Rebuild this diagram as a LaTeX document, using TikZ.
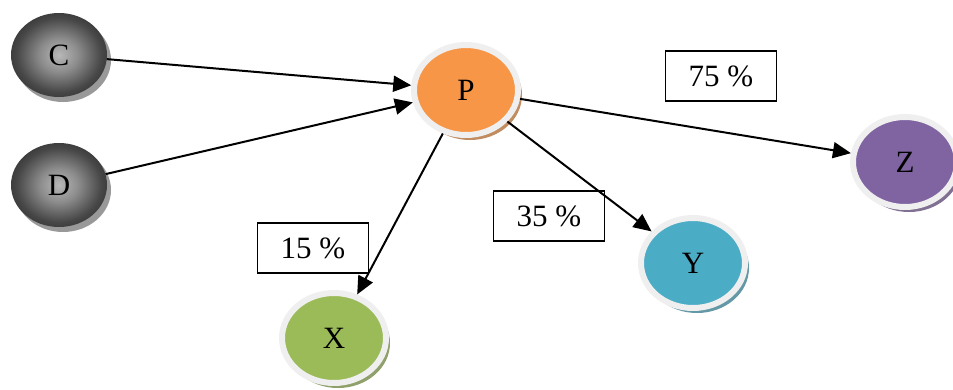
\documentclass[tikz,border=0pt]{standalone}
\usepackage{fontspec}
\setmainfont{Liberation Serif}
\usetikzlibrary{shapes.geometric,shadows,arrows.meta}

\definecolor{pOrange}{HTML}{F79646}
\definecolor{xGreen}{HTML}{9BBB59}
\definecolor{yBlue}{HTML}{4BACC6}
\definecolor{zPurple}{HTML}{8064A2}
\definecolor{ringGray}{HTML}{EFEFEF}

\pgfdeclareradialshading{darkball}{\pgfpoint{0bp}{0bp}}{%
  color(0bp)=(black!28); color(10bp)=(black!45); color(22bp)=(black!72);
  color(35bp)=(black!88); color(50bp)=(black!95)}

\tikzset{
  ball/.style={ellipse, minimum width=96pt, minimum height=84pt, inner sep=0pt,
    shading=darkball,
    drop shadow={shadow xshift=4pt, shadow yshift=-5pt, fill=black!40, opacity=1}},
  bubble/.style={ellipse, minimum width=104pt, minimum height=90pt, inner sep=0pt,
    fill=#1, draw=ringGray, line width=6pt,
    drop shadow={shadow xshift=4pt, shadow yshift=-5pt, fill=#1!55!gray, opacity=1}},
  share/.style={draw, line width=1.3pt, minimum width=111pt, minimum height=50pt},
  arr/.style={line width=2pt, -{Triangle[length=18pt, width=16pt]}}
}

\begin{document}
\begin{tikzpicture}[x=1pt, y=-1pt, font=\fontsize{31}{35}\selectfont]

    \useasboundingbox (0, 0) rectangle (953, 389);

    % Entradas
    \node[ball] (C) at (59, 55) {C};
    \node[ball] (D) at (59, 185) {D};

    % Nodo central
    \node[bubble=pOrange] (P) at (466, 90) {P};

    % Salidas
    \node[bubble=xGreen] (X) at (334, 338) {X};
    \node[bubble=yBlue] (Y) at (693, 263) {Y};
    \node[bubble=zPurple] (Z) at (905, 162) {Z};

    % Porcentajes
    \node[share] (l75) at (721, 76) {75 \%};
    \node[share] (l35) at (549, 216) {35 \%};
    \node[share] (l15) at (313, 248) {15 \%};

    % Flechas
    \draw[arr] (C) -- (P);
    \draw[arr] (D) -- (P);
    \draw[arr] (P) -- (Z);
    \draw[arr] (P) -- (Y);
    \draw[arr] (P) -- (X);

  \end{tikzpicture}
\end{document}
